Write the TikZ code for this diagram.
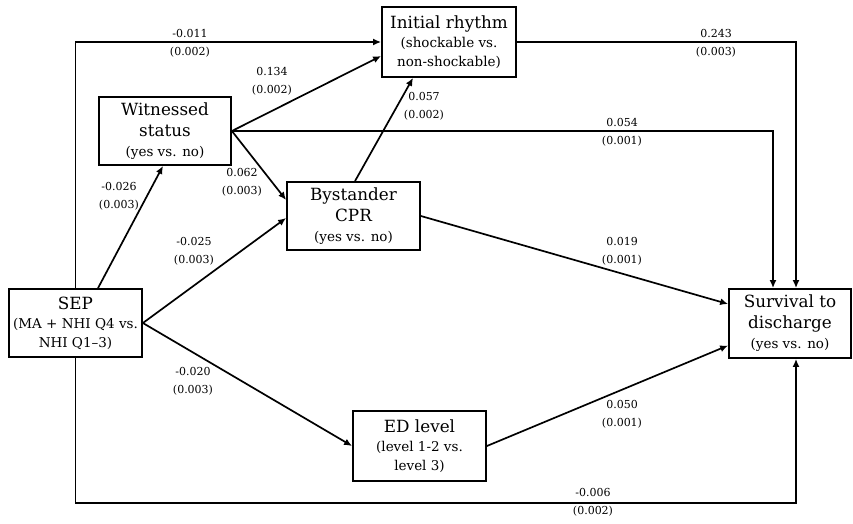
\documentclass[tikz,border=0pt]{standalone}
\usepackage{fontspec}
\setmainfont{DejaVu Serif}
\usetikzlibrary{arrows.meta}
\newcommand{\mainsz}{\fontsize{16.8}{21}\selectfont}
\newcommand{\subsz}{\fontsize{13.5}{19}\selectfont}
\begin{document}
\begin{tikzpicture}[x=1pt,y=-1pt,
  box/.style={draw,line width=1.8pt,align=center,inner sep=0pt,font=\mainsz},
  lbl/.style={align=center,inner sep=0pt,font=\fontsize{11}{18}\selectfont},
  arr/.style={line width=1.7pt,-{Latex[length=8pt,width=7pt]}}]
\useasboundingbox (0,0) rectangle (853,523);
\node[box,minimum width=134pt,minimum height=70pt] (ir) at (449,42) {Initial rhythm\\[-2pt]{\subsz (shockable vs.}\\[-2pt]{\subsz non-shockable)}};
\node[box,minimum width=132pt,minimum height=68pt] (wit) at (165,131) {Witnessed\\status\\[-1pt]{\subsz (yes vs. no)}};
\node[box,minimum width=133pt,minimum height=68pt] (by) at (353.5,216) {Bystander\\CPR\\[-1pt]{\subsz (yes vs. no)}};
\node[box,minimum width=133pt,minimum height=68pt] (sep) at (75.5,323) {SEP\\[-2pt]{\subsz (MA + NHI Q4 vs.}\\[-2pt]{\subsz NHI Q1--3)}};
\node[box,minimum width=122pt,minimum height=69pt] (surv) at (790,323.5) {Survival to\\discharge\\[-1pt]{\subsz (yes vs. no)}};
\node[box,minimum width=133pt,minimum height=70pt] (ed) at (419.5,446) {ED level\\[-2pt]{\subsz (level 1-2 vs.}\\[-2pt]{\subsz level 3)}};

\draw[arr] (sep.north) |- (ir.west);
\draw[arr] (sep.south) -- ++(0,145) -| ([xshift=6pt]surv.south);
\draw[arr] (ir.east) -| ([xshift=6pt]surv.north);
\draw[arr] (wit.east) -| ([xshift=-17pt]surv.north);
\draw[arr] (wit.east) -- ([yshift=-14pt]ir.west);
\draw[arr] (wit.east) -- ([yshift=16pt]by.west);
\draw[arr] ([xshift=22.5pt]sep.north) -- ([xshift=-2pt]wit.south);
\draw[arr] (sep.east) -- ([yshift=-2pt]by.west);
\draw[arr] (sep.east) -- (ed.west);
\draw[arr] ([xshift=1.5pt]by.north) -- ([xshift=-36pt]ir.south);
\draw[arr] (by.east) -- ([yshift=19.5pt]surv.west);
\draw[arr] (ed.east) -- ([yshift=-22pt]surv.west);

\node[lbl] (l1) at (190,43) {-0.011\\(0.002)};
\node[lbl] (l2) at (272,81) {0.134\\(0.002)};
\node[lbl] (l3) at (119,196) {-0.026\\(0.003)};
\node[lbl] (l4) at (242,182) {0.062\\(0.003)};
\node[lbl] (l5) at (424,106) {0.057\\(0.002)};
\node[lbl] (l6) at (622,132) {0.054\\(0.001)};
\node[lbl] (l7) at (716,43) {0.243\\(0.003)};
\node[lbl] (l8) at (194,251) {-0.025\\(0.003)};
\node[lbl] (l9) at (622,251) {0.019\\(0.001)};
\node[lbl] (l10) at (193,381) {-0.020\\(0.003)};
\node[lbl] (l11) at (622,414) {0.050\\(0.001)};
\node[lbl] (l12) at (593,502) {-0.006\\(0.002)};
\end{tikzpicture}
\end{document}
